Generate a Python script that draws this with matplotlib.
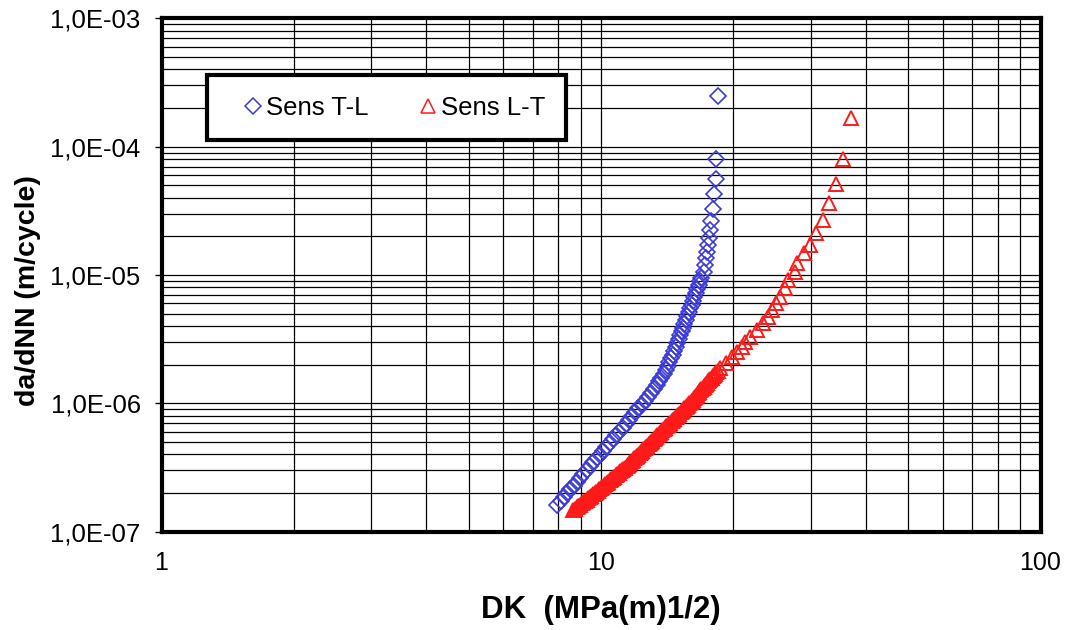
import numpy as np
import matplotlib
matplotlib.use('Agg')
import matplotlib.pyplot as plt
from matplotlib.ticker import FuncFormatter, NullFormatter, LogLocator

plt.rcParams['font.family'] = ['Liberation Sans', 'DejaVu Sans']

# Sens T-L : DK (MPa m^1/2) and da/dN (m/cycle)
dk_tl = [7.95, 8.09, 8.23, 8.37, 8.52, 8.66, 8.81, 8.97, 9.12, 9.28,
         9.44, 9.60, 9.77, 9.93, 10.11, 10.28, 10.46, 10.64, 10.82, 11.01,
         11.20, 11.39, 11.58, 11.78, 11.97, 12.17, 12.37, 12.58, 12.79, 13.00,
         13.21, 13.43, 13.56, 13.72, 13.89, 14.05, 14.19, 14.31, 14.43, 14.56,
         14.68, 14.80, 14.91, 15.03, 15.14, 15.25, 15.37, 15.48, 15.60, 15.72,
         15.84, 15.96, 16.08, 16.20, 16.32, 16.45, 16.56, 16.67, 16.78, 16.88,
         17.13, 17.25, 17.37, 17.46, 17.55, 17.65, 17.73, 17.82, 17.96, 18.05,
         18.24, 18.24, 18.43]
dadn_tl = [1.62e-7, 1.74e-7, 1.86e-7, 2.00e-7, 2.14e-7, 2.29e-7, 2.45e-7, 2.63e-7, 2.82e-7, 3.02e-7,
           3.24e-7, 3.47e-7, 3.72e-7, 3.98e-7, 4.27e-7, 4.57e-7, 4.90e-7, 5.25e-7, 5.62e-7, 6.03e-7,
           6.46e-7, 6.92e-7, 7.41e-7, 7.94e-7, 8.51e-7, 9.12e-7, 9.77e-7, 1.05e-6, 1.12e-6, 1.20e-6,
           1.29e-6, 1.38e-6, 1.48e-6, 1.59e-6, 1.70e-6, 1.82e-6, 1.95e-6, 2.09e-6, 2.24e-6, 2.40e-6,
           2.57e-6, 2.75e-6, 2.95e-6, 3.16e-6, 3.39e-6, 3.63e-6, 3.89e-6, 4.17e-6, 4.47e-6, 4.79e-6,
           5.13e-6, 5.50e-6, 5.89e-6, 6.31e-6, 6.76e-6, 7.24e-6, 7.76e-6, 8.32e-6, 8.91e-6, 9.55e-6,
           1.06e-5, 1.20e-5, 1.35e-5, 1.52e-5, 1.71e-5, 1.94e-5, 2.25e-5, 2.62e-5, 3.27e-5, 4.25e-5,
           5.57e-5, 8.05e-5, 2.49e-4]

# Sens L-T
dk_lt = [8.65, 8.72, 8.80, 8.88, 8.96, 9.04, 9.12, 9.20, 9.28, 9.36,
         9.44, 9.51, 9.59, 9.67, 9.75, 9.82, 9.90, 9.98, 10.06, 10.14,
         10.22, 10.30, 10.39, 10.47, 10.55, 10.63, 10.72, 10.80, 10.89, 10.98,
         11.07, 11.16, 11.25, 11.34, 11.43, 11.51, 11.59, 11.67, 11.75, 11.83,
         11.91, 12.00, 12.08, 12.16, 12.25, 12.33, 12.41, 12.49, 12.58, 12.66,
         12.74, 12.83, 12.91, 13.00, 13.09, 13.17, 13.26, 13.35, 13.44, 13.52,
         13.61, 13.70, 13.80, 13.89, 13.99, 14.09, 14.19, 14.29, 14.39, 14.49,
         14.59, 14.68, 14.78, 14.88, 14.98, 15.08, 15.18, 15.28, 15.38, 15.48,
         15.59, 15.69, 15.79, 15.89, 16.00, 16.11, 16.22, 16.30, 16.39, 16.48,
         16.57, 16.66, 16.75, 16.84, 16.93, 17.02, 17.12, 17.21, 17.30, 17.40,
         17.51, 17.62, 17.74, 17.85, 17.96, 18.08, 18.19, 18.30, 18.42,
         18.66, 19.2, 19.83, 20.35, 20.9, 21.3, 21.83, 22.61, 23.41, 24.03,
         24.46, 25.02, 25.55, 26.22, 26.68, 27.63, 27.97, 29.0, 29.9, 30.85,
         31.95, 33.07, 34.25, 35.6, 37.06]
dadn_lt = [1.48e-7, 1.51e-7, 1.55e-7, 1.58e-7, 1.62e-7, 1.66e-7, 1.70e-7, 1.74e-7, 1.78e-7, 1.82e-7,
           1.86e-7, 1.91e-7, 1.95e-7, 2.00e-7, 2.04e-7, 2.09e-7, 2.14e-7, 2.19e-7, 2.24e-7, 2.29e-7,
           2.34e-7, 2.40e-7, 2.46e-7, 2.51e-7, 2.57e-7, 2.63e-7, 2.69e-7, 2.75e-7, 2.82e-7, 2.88e-7,
           2.95e-7, 3.02e-7, 3.09e-7, 3.16e-7, 3.24e-7, 3.31e-7, 3.39e-7, 3.47e-7, 3.55e-7, 3.63e-7,
           3.72e-7, 3.80e-7, 3.89e-7, 3.98e-7, 4.07e-7, 4.17e-7, 4.27e-7, 4.37e-7, 4.47e-7, 4.57e-7,
           4.68e-7, 4.79e-7, 4.90e-7, 5.01e-7, 5.13e-7, 5.25e-7, 5.37e-7, 5.50e-7, 5.62e-7, 5.75e-7,
           5.89e-7, 6.03e-7, 6.17e-7, 6.31e-7, 6.46e-7, 6.61e-7, 6.76e-7, 6.92e-7, 7.08e-7, 7.24e-7,
           7.41e-7, 7.59e-7, 7.76e-7, 7.94e-7, 8.13e-7, 8.32e-7, 8.51e-7, 8.71e-7, 8.91e-7, 9.12e-7,
           9.33e-7, 9.55e-7, 9.77e-7, 1.00e-6, 1.02e-6, 1.05e-6, 1.07e-6, 1.10e-6, 1.12e-6, 1.15e-6,
           1.17e-6, 1.20e-6, 1.23e-6, 1.26e-6, 1.29e-6, 1.32e-6, 1.35e-6, 1.38e-6, 1.41e-6, 1.45e-6,
           1.48e-6, 1.51e-6, 1.55e-6, 1.58e-6, 1.62e-6, 1.66e-6, 1.70e-6, 1.74e-6, 1.78e-6,
           1.87e-6, 2.05e-6, 2.31e-6, 2.52e-6, 2.76e-6, 3.0e-6, 3.31e-6, 3.73e-6, 4.2e-6, 4.73e-6,
           5.34e-6, 6.02e-6, 6.78e-6, 7.87e-6, 9.14e-6, 1.06e-5, 1.23e-5, 1.48e-5, 1.71e-5, 2.11e-5,
           2.68e-5, 3.62e-5, 5.09e-5, 8.01e-5, 1.66e-4]


def sci_comma(v, pos):
    # 1,0E-05 style labels
    e = int(np.floor(np.log10(v) + 1e-9))
    return f"{v / 10**e:.1f}E{e:03d}".replace('.', ',')


fig = plt.figure(figsize=(10.68, 6.3), dpi=100)
ax = fig.add_axes([161.5 / 1068, 1 - 531.7 / 630, 879 / 1068, 513.4 / 630])

ax.plot(dk_tl, dadn_tl, linestyle='none', marker='D', ms=7.8, mfc='none',
        mec='#3b3bd6', mew=1.2, label='Sens T-L', zorder=3)
ax.plot(dk_lt, dadn_lt, linestyle='none', marker='^', ms=10.5, mfc='none',
        mec='#ff1a1a', mew=1.4, label='Sens L-T', zorder=3)

ax.set_xscale('log')
ax.set_yscale('log')
ax.set_xlim(1, 100)
ax.set_ylim(1e-7, 1e-3)

ax.yaxis.set_major_locator(LogLocator(base=10, numticks=10))
ax.yaxis.set_minor_locator(LogLocator(base=10, subs=np.arange(2, 10), numticks=20))
ax.xaxis.set_minor_locator(LogLocator(base=10, subs=np.arange(2, 10), numticks=20))
ax.xaxis.set_major_formatter(FuncFormatter(lambda v, p: f"{v:g}"))
ax.yaxis.set_major_formatter(FuncFormatter(sci_comma))
ax.xaxis.set_minor_formatter(NullFormatter())
ax.yaxis.set_minor_formatter(NullFormatter())

ax.grid(True, which='both', color='black', lw=0.9)
ax.set_axisbelow(True)

ax.tick_params(axis='x', which='both', length=0, pad=14, labelsize=18)
ax.tick_params(axis='y', which='major', length=5, width=1, direction='out', pad=10, labelsize=18.5)
ax.tick_params(axis='y', which='minor', length=0)

for sp in ax.spines.values():
    sp.set_linewidth(3)
    sp.set_color('black')

ax.set_xlabel('DK  (MPa(m)1/2)', fontsize=22.5, fontweight='bold', labelpad=14)
ax.set_ylabel('da/dNN (m/cycle)', fontsize=20.5, fontweight='bold')
ax.yaxis.set_label_coords(-0.137, 0.47)

leg = ax.legend(loc='upper left', bbox_to_anchor=(0.0518, 0.8896), borderaxespad=0,
                ncol=2, fontsize=18.5, frameon=True, fancybox=False, edgecolor='black',
                framealpha=1, borderpad=0.8, handlelength=2.0, handletextpad=-0.5,
                columnspacing=1.3)
leg.get_frame().set_linewidth(3)
for h in leg.legend_handles:
    h.set_markeredgewidth(1.1)

fig.savefig('out.png', dpi=100)
